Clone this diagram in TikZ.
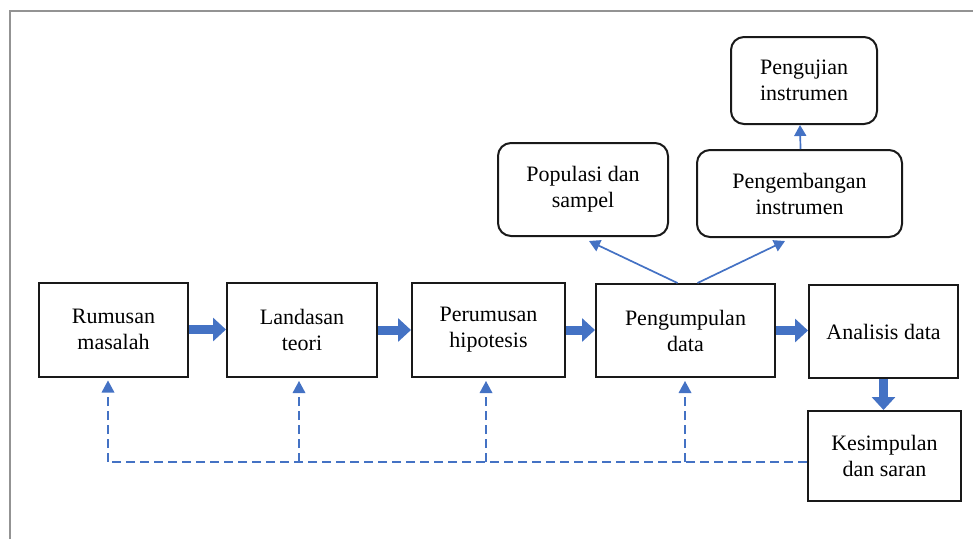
\documentclass[tikz,border=0pt]{standalone}
\usepackage{fontspec}
\setmainfont{Liberation Serif}
\usetikzlibrary{arrows.meta}
\definecolor{flowblue}{HTML}{4472C4}
\tikzset{
  stepbox/.style={draw=black!90, line width=2pt, align=center, inner sep=0pt,
    font=\rmfamily\fontsize{22}{26}\selectfont},
  roundbox/.style={stepbox, rounded corners=13pt},
  bigarrow/.style={flowblue, line width=9pt, -{Triangle[length=13pt,width=23pt]}},
  thinarrow/.style={flowblue, line width=1.7pt, -{Triangle[length=11pt,width=12pt]}},
  backarrow/.style={flowblue, line width=1.9pt, dash pattern=on 9pt off 5pt},
}
\begin{document}
\begin{tikzpicture}[x=1pt, y=-1pt]
    \useasboundingbox (0,0) rectangle (973,539);
    % Draw frame
    \draw[gray!85, line width=2pt] (10,539) -- (10,11) -- (973,11);

    % Main row of steps
    \node[stepbox, minimum width=149pt, minimum height=94pt] (rumusan) at (113.5,329.5) {Rumusan\\masalah};
    \node[stepbox, minimum width=150pt, minimum height=94pt] (landasan) at (302,330) {Landasan\\teori};
    \node[stepbox, minimum width=153pt, minimum height=94pt] (hipotesis) at (488.5,330) {Perumusan\\hipotesis};
    \node[stepbox, minimum width=179pt, minimum height=93pt] (kumpul) at (685.5,330.5) {Pengumpulan\\data};
    \node[stepbox, minimum width=149pt, minimum height=93pt] (analisis) at (883.5,331.5) {Analisis data};
    \node[stepbox, minimum width=153pt, minimum height=90pt] (simpulan) at (884.5,456) {Kesimpulan\\dan saran};

    % Upper rounded boxes
    \node[roundbox, minimum width=170pt, minimum height=93pt] (populasi) at (583,189.5) {Populasi dan\\sampel};
    \node[roundbox, minimum width=205pt, minimum height=87pt] (kembang) at (799.5,193.5) {Pengembangan\\instrumen};
    \node[roundbox, minimum width=146pt, minimum height=87pt] (uji) at (804,80.5) {Pengujian\\instrumen};

    % Block arrows between steps
    \draw[bigarrow] (rumusan.east) -- (rumusan.east -| landasan.west);
    \draw[bigarrow] (landasan.east) -- (landasan.east -| hipotesis.west);
    \draw[bigarrow] (hipotesis.east) -- (hipotesis.east -| kumpul.west);
    \draw[bigarrow] (kumpul.east) -- (kumpul.east -| analisis.west);
    \draw[bigarrow] (analisis.south) -- (analisis.south |- simpulan.north);

    % Thin arrows to the upper boxes
    \coordinate (popend) at (589,241);
    \coordinate (kembangend) at (785,241);
    \coordinate (ujiend) at (800,125);
    \draw[thinarrow] ([xshift=-8pt]kumpul.north) -- (popend);
    \draw[thinarrow] ([xshift=12pt]kumpul.north) -- (kembangend);
    \draw[thinarrow] ([xshift=1pt]kembang.north) -- (ujiend);

    % Dashed feedback lines
    \coordinate (back) at (108,462);
    \draw[backarrow] (simpulan.west |- back) -- (back);
    \foreach \stepname/\dx in {rumusan/-5.5, landasan/-3, hipotesis/-2.5, kumpul/-0.5} {
        \draw[backarrow] ([xshift=\dx pt]\stepname.south |- back) -- ([xshift=\dx pt, yshift=-12pt]\stepname.south);
        \fill[flowblue] ([xshift=\dx pt, yshift=-3pt]\stepname.south) -- ++(-6.5,12) -- ++(13,0) -- cycle;
    }
\end{tikzpicture}
\end{document}
